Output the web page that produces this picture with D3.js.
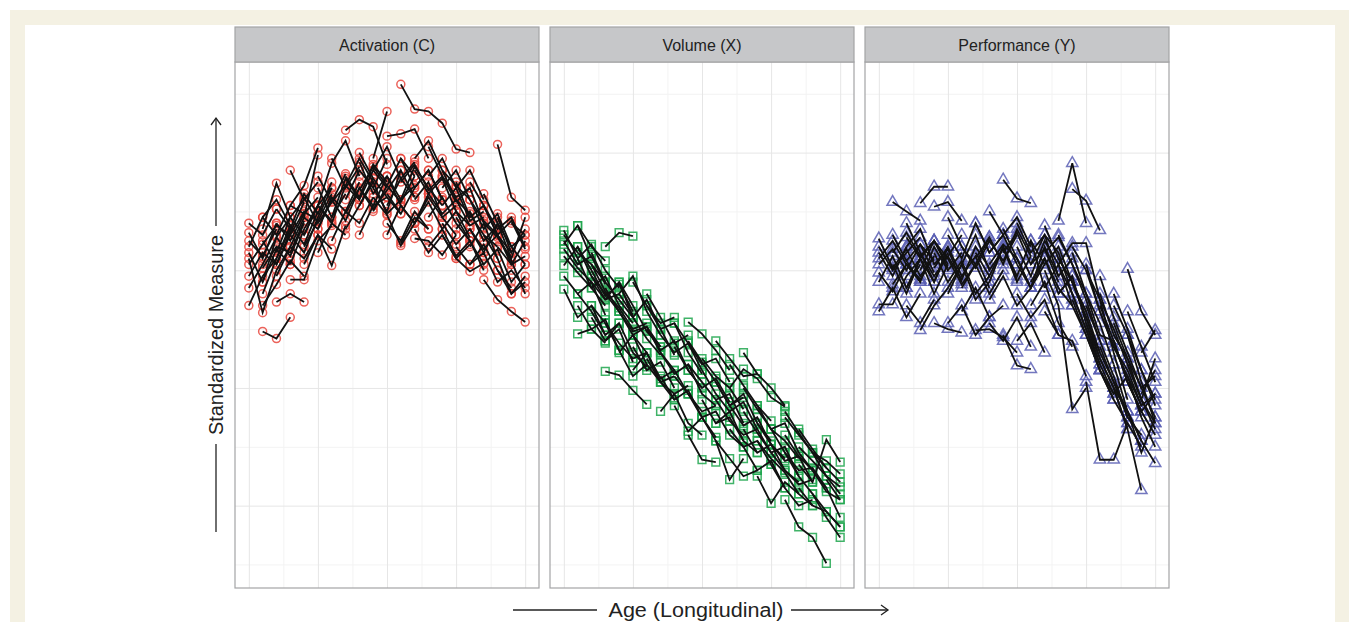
<!DOCTYPE html>
<html>
<head>
  <meta charset="utf-8">
  <script src="https://d3js.org/d3.v7.min.js"></script>
  <style>
    body{ margin:0; background:#fff; }
    text{ font-family:"Liberation Sans", Arial, sans-serif; fill:#222; }
    .strip-text{ font-size:16px; }
    .axis-title{ font-size:20px; }
  </style>
</head>
<body>
  <svg id="chart" width="1349" height="622"></svg>
  <script>
    // facet titles and axis breaks
    var panelTitles = ["Activation (C)", "Volume (X)", "Performance (Y)"];
    var ageMajor = [0, 5, 10, 15, 20];
    var ageMinor = [2.5, 7.5, 12.5, 17.5];
    var measureMajor = [-2, -1, 0, 1];
    var measureMinor = [-2.5, -1.5, -0.5, 0.5, 1.5];

    // each row: [first age, standardized values at consecutive ages...]
    var activation = [
      [0, 0.05, 0.22, 0.38, 0.30], [0, 0.25, 0.12, 0.35], [0, -0.15, 0.05, 0.28, 0.45],
      [0, 0.40, 0.30, 0.52], [0, -0.30, -0.05, 0.10], [0, 0.10, -0.36, 0.00, 0.20],
      [1, 0.35, 0.74, 0.45, 0.60], [1, -0.52, -0.58, -0.40], [1, 0.02, 0.20, 0.15, 0.42],
      [1, -0.20, 0.10, 0.35], [2, -0.27, -0.20, -0.27], [2, 0.15, 0.45, 0.30, 0.55, 0.70],
      [2, 0.05, 0.32, 0.58], [2, 0.40, 0.25, 0.48, 0.62], [3, 0.55, 0.72, 1.04],
      [4, 0.45, 0.98], [3, -0.08, -0.08, 0.25, 0.38], [3, 0.20, 0.45, 0.35, 0.60],
      [4, 0.30, 0.55, 0.40, 0.72, 0.60], [4, 0.05, 0.30, 0.04, 0.38], [5, 0.55, 0.91, 1.10, 0.80],
      [5, 0.35, 0.62, 0.50, 0.75], [5, 0.70, 0.45, 0.65], [6, 0.45, 0.78, 0.60, 0.85, 0.70],
      [6, 0.25, 0.50, 0.40, 0.62], [7, 1.19, 1.28, 1.22, 0.90], [7, 0.60, 0.85, 0.70, 0.95],
      [7, 0.35, 0.55, 0.78], [8, 0.92, 0.65, 0.80, 0.55], [8, 0.55, 0.75, 0.48, 0.60, 0.72],
      [9, 0.95, 1.35], [9, 0.70, 0.50, 0.85, 0.62], [9, 0.62, 0.47, 0.21, 0.40],
      [10, 1.14, 1.16, 1.20, 0.95], [10, 0.80, 0.60, 0.88, 0.70, 0.55], [10, 0.55, 0.78, 0.62],
      [11, 1.58, 1.37, 1.35, 1.25, 1.03, 1.00], [11, 0.95, 0.70, 0.85, 0.60], [11, 0.23, 0.45, 0.35],
      [12, 0.27, 0.25, 0.13, 0.30], [12, 0.85, 0.65, 0.78, 0.50, 0.38], [12, 0.60, 0.75, 0.45, 0.55],
      [13, 1.05, 0.80, 0.62, 0.70], [13, 0.45, 0.62, 0.40, 0.25], [14, 0.30, 0.10, -0.01, 0.06],
      [14, 0.85, 0.60, 0.48, 0.30, 0.20], [14, 0.55, 0.70, 0.42, 0.50], [15, 0.75, 0.45, 0.55, 0.30, 0.15],
      [15, 0.35, 0.50, 0.25, 0.38], [16, 0.60, 0.35, 0.48, 0.20, 0.30], [16, 0.20, 0.40, 0.10],
      [17, -0.08, -0.25, -0.35, -0.44], [17, 0.55, 0.30, 0.42, 0.18], [18, 1.07, 0.62, 0.51],
      [18, 0.20, 0.05, 0.25], [17, 0.30, 0.10, -0.20, -0.05], [13, 0.80, 0.95, 0.70, 0.85, 0.60],
      [8, 0.30, 0.55, 0.62, 0.48], [19, 0.40, 0.30], [16, 0.05, 0.15, -0.10, 0.00, -0.15],
      [3, 0.85, 0.60, 0.75], [18, 0.45, 0.15, 0.35], [6, 0.95, 0.70, 0.88],
      [0, 0.20, 0.45, 0.30, 0.55, 0.48], [0, -0.05, 0.15, 0.05, 0.32], [0, 0.32, 0.10, 0.40],
      [1, 0.25, 0.05, 0.30, 0.50, 0.42], [1, -0.10, 0.28, 0.12, 0.40], [1, 0.45, 0.60, 0.38],
      [2, 0.10, 0.38, 0.22, 0.50], [2, 0.52, 0.35, 0.65, 0.48, 0.75], [3, 0.30, 0.15, 0.45, 0.70],
      [3, 0.05, 0.35, 0.55, 0.42], [4, 0.62, 0.40, 0.58, 0.82], [4, 0.20, 0.42, 0.65],
      [5, 0.80, 0.58, 0.72, 0.95, 0.75], [5, 0.15, 0.40, 0.30], [6, 0.60, 0.42, 0.70, 0.55, 0.80],
      [7, 0.80, 0.62, 0.90, 0.75], [7, 0.48, 0.70, 0.52, 0.68, 0.85], [8, 0.68, 0.88, 0.72, 0.95, 0.80],
      [8, 1.00, 0.78, 0.62], [9, 0.50, 0.72, 0.58, 0.80], [9, 0.85, 1.05, 0.78, 0.92],
      [10, 0.65, 0.48, 0.70, 0.85, 0.60], [10, 0.30, 0.55, 0.40, 0.65], [11, 0.75, 0.90, 0.68, 0.80, 0.58],
      [11, 0.55, 0.40, 0.62, 0.45, 0.30], [12, 0.95, 1.10, 0.85, 0.72, 0.60], [12, 0.40, 0.58, 0.35, 0.50, 0.28],
      [13, 0.65, 0.48, 0.60, 0.38, 0.45], [14, 0.70, 0.85, 0.60, 0.42, 0.30], [14, 0.40, 0.22, 0.35, 0.15],
      [15, 0.58, 0.70, 0.40, 0.28, 0.10], [15, 0.20, 0.05, 0.22, 0.00, -0.15], [16, 0.75, 0.55, 0.35, 0.45, 0.20],
      [16, 0.35, 0.18, 0.30, 0.05, 0.12], [17, 0.65, 0.40, 0.20, 0.05], [18, 0.00, -0.20, -0.10],
      [17, 0.15, 0.40, 0.10, 0.45], [12, 0.35, 0.15, 0.30, 0.10, 0.22], [13, 0.20, 0.35, 0.12, 0.25, 0.00],
      [15, 0.45, 0.25, 0.05, 0.18, -0.10, 0.05], [18, 0.30, 0.08, -0.20], [0, 0.15, -0.10, 0.18, 0.05],
      [1, -0.30, -0.12, 0.08, -0.05], [2, -0.05, 0.20, 0.10, 0.30, 0.18], [10, 0.40, 0.25, 0.50, 0.35]
    ];

    var volume = [
      [0, 0.30, 0.15, 0.05, -0.10], [0, 0.04, 0.20, -0.05, -0.20, -0.35], [0, -0.16, -0.40, -0.30, -0.55],
      [0, 0.22, 0.38, 0.10], [0, 0.12, -0.02, -0.15, -0.30], [0, 0.25, 0.05, 0.12, -0.12],
      [1, -0.54, -0.50, -0.62], [1, 0.10, -0.15, -0.05, -0.30, -0.45], [1, -0.20, -0.35, -0.55, -0.45],
      [2, 0.15, -0.10, -0.25, -0.40], [2, -0.30, -0.45, -0.62, -0.75, -0.70], [3, 0.20, 0.32, 0.29],
      [3, -0.86, -0.89, -1.02, -1.14], [3, -0.15, -0.35, -0.52, -0.48, -0.65], [3, -0.60, -0.45, -0.70, -0.82],
      [4, -0.20, -0.05, -0.35, -0.55], [4, -0.70, -0.55, -0.80, -0.95, -0.90], [5, -0.40, -0.25, -0.50, -0.72],
      [5, -0.65, -0.85, -0.78, -1.00], [6, -0.30, -0.50, -0.45, -0.70, -0.88], [6, -0.75, -0.95, -1.05, -0.98],
      [7, -0.55, -0.70, -0.62, -0.85], [7, -0.90, -1.10, -1.02, -1.25], [8, -0.45, -0.62, -0.80, -0.75, -0.95],
      [9, -0.44, -0.54, -0.68, -0.85], [8, -1.15, -1.37, -1.25, -1.42], [9, -0.80, -0.95, -1.10, -1.05, -1.30],
      [9, -1.40, -1.61, -1.63], [10, -0.75, -0.90, -1.00, -1.18], [10, -1.25, -1.45, -1.78, -1.60],
      [11, -0.95, -1.15, -1.05, -1.30, -1.45], [11, -1.30, -1.20, -1.45, -1.55], [12, -1.00, -0.84, -0.92, -1.08, -1.16],
      [12, -1.35, -1.50, -1.45, -1.65], [13, -1.20, -1.38, -1.55, -1.50, -1.75], [13, -1.50, -1.70, -1.62, -1.85],
      [14, -1.15, -1.35, -1.30, -1.55, -1.70], [14, -1.75, -1.98, -1.80, -1.90], [16, -1.25, -1.40, -1.55, -1.62, -1.73],
      [15, -1.55, -1.70, -1.82, -1.78], [16, -1.95, -2.18, -2.27, -2.49], [16, -1.40, -1.58, -1.70, -1.88, -1.95],
      [17, -1.65, -1.80, -1.44, -1.63], [17, -1.85, -2.00, -2.05, -2.18], [17, -1.50, -1.62, -1.75, -1.84],
      [18, -1.90, -2.10, -2.27], [18, -1.70, -1.85, -2.10], [16, -1.20, -1.38, -1.55, -1.68],
      [19, -1.78, -1.95], [5, -0.10, -0.30, -0.45, -0.40], [1, 0.38, 0.20, 0.08],
      [2, -0.05, -0.25, -0.20, -0.38], [11, -0.60, -0.75, -0.90, -0.88], [7, -1.20, -1.05, -1.30, -1.40],
      [13, -0.70, -0.88, -1.00, -1.15],
      [0, 0.18, 0.02, -0.10, -0.25], [0, 0.34, 0.10, 0.22, 0.00, -0.15], [0, -0.05, -0.20, -0.10, -0.38],
      [1, 0.20, 0.00, -0.22, -0.12, -0.35], [1, -0.30, -0.50, -0.42, -0.68], [2, 0.05, -0.18, -0.32, -0.50, -0.45],
      [2, -0.40, -0.60, -0.50, -0.78], [3, -0.25, -0.10, -0.40, -0.58, -0.72], [3, -0.45, -0.68, -0.90, -0.80],
      [4, -0.35, -0.55, -0.48, -0.70, -0.85], [4, -0.10, -0.30, -0.52, -0.65], [5, -0.55, -0.70, -0.92, -0.85, -1.05],
      [5, -0.85, -0.70, -0.95, -1.10], [6, -0.50, -0.68, -0.60, -0.85, -1.00], [6, -0.20, -0.40, -0.62, -0.55],
      [7, -0.70, -0.88, -0.80, -1.05, -1.15], [8, -0.65, -0.85, -1.00, -0.92, -1.12], [8, -0.90, -1.05, -1.20, -1.15],
      [9, -0.60, -0.78, -0.95, -1.15, -1.08], [9, -1.05, -1.25, -1.20, -1.40, -1.50], [10, -0.85, -1.05, -1.20, -1.12, -1.35],
      [10, -1.10, -1.30, -1.25, -1.45], [11, -1.10, -1.28, -1.40, -1.35, -1.55], [12, -1.15, -1.32, -1.25, -1.48, -1.60],
      [12, -0.80, -0.98, -1.15, -1.28], [13, -1.35, -1.55, -1.48, -1.70, -1.80], [13, -1.00, -1.18, -1.35, -1.45, -1.60],
      [14, -1.30, -1.48, -1.62, -1.58, -1.80], [14, -1.45, -1.60, -1.72, -1.90, -2.00], [15, -1.35, -1.55, -1.70, -1.68, -1.85],
      [15, -1.65, -1.85, -2.00, -1.95], [16, -1.55, -1.75, -1.90, -2.05, -2.18], [17, -1.35, -1.52, -1.68, -1.80],
      [18, -1.55, -1.75, -1.90], [11, -1.45, -1.60, -1.75, -1.70]
    ];

    var performance = [
      [0, 0.10, 0.25, 0.05, -0.10], [0, -0.29, -0.29, -0.05, 0.10], [0, 0.27, 0.02, 0.18, -0.05, 0.12],
      [0, -0.10, 0.12, -0.15, 0.05], [0, 0.15, -0.05, 0.20], [1, 0.58, 0.50, 0.42],
      [1, 0.05, -0.20, 0.10, -0.10, 0.15], [1, 0.30, 0.08, 0.22, -0.02], [2, -0.15, 0.10, -0.20, 0.05],
      [2, 0.20, 0.35, 0.05, 0.18, -0.10], [3, 0.57, 0.71, 0.71], [3, -0.51, -0.30, -0.15, 0.05],
      [3, 0.00, 0.25, 0.10, -0.12, 0.05], [4, 0.54, 0.58, 0.42], [4, -0.45, -0.50, -0.53],
      [4, 0.15, -0.10, 0.08, -0.20, -0.05], [5, 0.30, 0.10, 0.40, 0.15, 0.30], [5, -0.20, 0.05, -0.25, -0.10],
      [6, 0.05, 0.30, 0.00, 0.18, -0.08], [6, -0.35, -0.15, -0.40, -0.30], [7, -0.51, -0.50, -0.57, -0.70],
      [7, 0.40, 0.15, 0.30, 0.05], [7, 0.10, 0.28, 0.05, 0.35, 0.12], [8, -0.10, 0.20, -0.05, 0.25, -0.15],
      [9, 0.77, 0.61, 0.57], [9, -0.55, -0.81, -0.84], [9, 0.35, 0.10, -0.15, 0.20, -0.05],
      [10, 0.40, 0.15, 0.30, -0.05, 0.10], [10, -0.20, -0.40, -0.25, -0.55], [11, 0.05, 0.30, 0.15, -0.20, -0.50, -0.80],
      [11, -0.30, -0.10, -0.45, -0.65], [12, 0.38, 0.10, -0.10, -0.40, -0.70], [12, 0.00, -0.30, -1.18, -1.00],
      [13, 0.42, 0.91, 0.40], [13, 0.05, 0.23, 0.23, -0.25, -0.70, -1.10], [14, 0.69, 0.59, 0.34],
      [13, -0.20, -0.05, -0.45, -0.80, -1.05], [14, -0.10, -0.40, -0.75, -1.00, -1.35], [14, 0.15, -0.20, -0.55, -0.60, -0.95, -1.20],
      [15, -0.30, -0.60, -0.90, -1.25, -1.40], [15, 0.05, -0.35, -0.65, -0.85, -1.15, -1.05], [15, -0.95, -1.61, -1.61, -1.30],
      [17, -1.00, -1.35, -1.87], [17, -0.80, -1.20, -1.45, -1.64], [18, 0.01, -0.35, -0.55],
      [16, -0.20, -0.55, -0.75, -1.10, -1.30], [17, -0.60, -0.95, -1.20, -1.05], [16, -0.85, -1.05, -0.90, -1.25, -1.50],
      [18, -0.80, -1.10, -0.75], [12, -0.35, -0.55, -0.60, -0.90], [10, 0.20, -0.05, 0.25, 0.05, -0.30],
      [8, 0.50, 0.30, 0.45, 0.20], [5, 0.45, 0.20, 0.05, 0.28], [2, 0.40, 0.15, -0.10, 0.20],
      [19, -0.70, -0.51], [17, -0.30, -0.55, -0.95, -1.30],
      [0, 0.05, 0.18, 0.00, 0.22, 0.08], [0, 0.20, 0.00, 0.15, 0.28], [0, -0.02, -0.18, 0.05, -0.08],
      [1, 0.15, 0.32, 0.12, 0.25, 0.02], [1, -0.12, 0.05, -0.08, 0.12], [2, 0.08, -0.10, 0.20, 0.00, 0.15],
      [2, 0.28, 0.10, 0.25, 0.05], [3, 0.15, -0.05, 0.12, 0.30], [4, 0.02, 0.20, -0.05, 0.12, -0.15],
      [5, 0.12, -0.08, 0.20, 0.02], [6, 0.20, 0.02, 0.25, 0.08, 0.30], [6, -0.15, 0.05, -0.20, 0.00],
      [7, 0.15, -0.05, 0.20, -0.10, 0.12], [8, 0.05, 0.22, 0.10, -0.15, 0.05], [8, -0.25, -0.05, -0.30, -0.15],
      [9, 0.15, 0.32, 0.05, 0.18, -0.10], [10, 0.05, -0.15, 0.10, -0.20, -0.05], [11, 0.25, 0.05, 0.20, -0.10, -0.35],
      [11, -0.10, 0.10, -0.15, -0.30, -0.55, -0.85], [12, 0.15, 0.28, 0.05, -0.25, -0.60], [12, -0.15, 0.05, -0.20, -0.50, -0.85, -1.10],
      [13, 0.10, -0.10, -0.35, -0.70, -0.95, -1.25], [13, 0.30, 0.05, -0.20, -0.45, -0.80], [14, 0.20, 0.00, -0.35, -0.65, -0.90, -1.15],
      [14, -0.25, -0.55, -0.85, -1.10, -1.30, -1.50], [15, 0.00, -0.25, -0.50, -0.80, -1.10, -1.35], [15, -0.45, -0.75, -1.00, -1.20, -1.45],
      [16, -0.30, -0.60, -0.95, -1.20, -1.40], [16, -0.05, -0.40, -0.70, -1.00, -0.90], [17, -0.45, -0.75, -1.00, -1.25],
      [17, -0.20, -0.50, -0.85, -1.15], [18, -0.55, -0.85, -1.10], [18, -0.35, -0.65, -0.95],
      [19, -1.05, -0.85], [16, -0.65, -0.95, -1.20, -1.55, -1.25],
      [0, -0.35, -0.15, -0.40, -0.20], [2, -0.30, -0.45, -0.25], [5, -0.45, -0.30, -0.55, -0.40],
      [8, -0.45, -0.60, -0.40, -0.65], [10, -0.60, -0.45, -0.70]
    ];

    var series = [activation, volume, performance];
    var markColors = ["#e8453c", "#1ea64e", "#5b5fb4"];
    var markShapes = [d3.symbolCircle, d3.symbolSquare, d3.symbolTriangle];
    var markSizes = [50, 60, 55];

    var svg = d3.select("svg#chart");
    var W = 1349, H = 622;

    // page frame
    svg.append("rect").attr("width", W).attr("height", H).attr("fill", "#fff");
    svg.append("rect").attr("x", 10).attr("y", 10).attr("width", W - 10).attr("height", H - 10).attr("fill", "#f4f1e3");
    svg.append("rect").attr("x", 25).attr("y", 25).attr("width", 1310).attr("height", H - 25).attr("fill", "#fff");

    var panelLeft = [235, 550, 865];
    var panelW = 304;
    var stripTop = 27, plotTop = 62, plotBottom = 588;
    var plotH = plotBottom - plotTop;

    var y = d3.scaleLinear().domain([-2.70, 1.77]).range([plotBottom, plotTop]);

    function gridStyle(g, color){
      g.select(".domain").remove();
      g.selectAll(".tick line").attr("stroke", color).attr("stroke-width", 1);
    }

    series.forEach(function(rows, i){
      var x = d3.scaleLinear().domain([-1, 21]).range([panelLeft[i], panelLeft[i] + panelW]);
      var g = svg.append("g").attr("class", "panel");

      // grid: minor then major
      g.append("g").attr("transform", "translate(0," + plotBottom + ")")
        .call(d3.axisBottom(x).tickValues(ageMinor).tickSize(-plotH).tickFormat(""))
        .call(gridStyle, "#f3f3f3");
      g.append("g").attr("transform", "translate(" + panelLeft[i] + ",0)")
        .call(d3.axisLeft(y).tickValues(measureMinor).tickSize(-panelW).tickFormat(""))
        .call(gridStyle, "#f3f3f3");
      g.append("g").attr("transform", "translate(0," + plotBottom + ")")
        .call(d3.axisBottom(x).tickValues(ageMajor).tickSize(-plotH).tickFormat(""))
        .call(gridStyle, "#e6e6e6");
      g.append("g").attr("transform", "translate(" + panelLeft[i] + ",0)")
        .call(d3.axisLeft(y).tickValues(measureMajor).tickSize(-panelW).tickFormat(""))
        .call(gridStyle, "#e6e6e6");

      var subjects = rows.map(function(r){
        return r.slice(1).map(function(v, k){ return {age: r[0] + k, v: v}; });
      });
      var allPts = [].concat.apply([], subjects);

      // markers
      g.append("g").selectAll("path")
        .data(allPts)
        .enter().append("path")
        .attr("d", d3.symbol().type(markShapes[i]).size(markSizes[i]))
        .attr("transform", function(d){ return "translate(" + x(d.age) + "," + y(d.v) + ")"; })
        .attr("fill", "none")
        .attr("stroke", markColors[i])
        .attr("stroke-width", 1.5)
        .attr("opacity", 0.85);

      // trajectories
      var line = d3.line().x(function(d){ return x(d.age); }).y(function(d){ return y(d.v); });
      g.append("g").selectAll("path")
        .data(subjects)
        .enter().append("path")
        .attr("d", line)
        .attr("fill", "none")
        .attr("stroke", "#111")
        .attr("stroke-width", 1.8);

      // panel border
      g.append("rect")
        .attr("x", panelLeft[i]).attr("y", plotTop)
        .attr("width", panelW).attr("height", plotH)
        .attr("fill", "none").attr("stroke", "#a3a4a6").attr("stroke-width", 1.2);

      // strip
      g.append("rect")
        .attr("x", panelLeft[i]).attr("y", stripTop)
        .attr("width", panelW).attr("height", plotTop - stripTop)
        .attr("fill", "#c6c7c9").attr("stroke", "#a3a4a6").attr("stroke-width", 1.2);
      g.append("text")
        .attr("class", "strip-text")
        .attr("x", panelLeft[i] + panelW / 2)
        .attr("y", (stripTop + plotTop) / 2 + 6)
        .attr("text-anchor", "middle")
        .text(panelTitles[i]);
    });

    // axis titles with arrows
    var ax = svg.append("g").attr("stroke", "#222").attr("stroke-width", 1.3).attr("fill", "none");
    ax.append("line").attr("x1", 513).attr("y1", 610).attr("x2", 597).attr("y2", 610);
    ax.append("line").attr("x1", 791).attr("y1", 610).attr("x2", 888).attr("y2", 610);
    ax.append("path").attr("d", "M881,605 L888,610 L881,615");
    svg.append("text").attr("class", "axis-title")
      .attr("x", 696).attr("y", 617).attr("text-anchor", "middle")
      .attr("textLength", 175).attr("lengthAdjust", "spacingAndGlyphs")
      .text("Age (Longitudinal)");

    ax.append("line").attr("x1", 216).attr("y1", 532).attr("x2", 216).attr("y2", 444);
    ax.append("line").attr("x1", 216).attr("y1", 226).attr("x2", 216).attr("y2", 118);
    ax.append("path").attr("d", "M211,125 L216,118 L221,125");
    svg.append("text").attr("class", "axis-title")
      .attr("transform", "translate(223,335) rotate(-90)")
      .attr("text-anchor", "middle")
      .attr("textLength", 200).attr("lengthAdjust", "spacingAndGlyphs")
      .text("Standardized Measure");
  </script>
</body>
</html>
